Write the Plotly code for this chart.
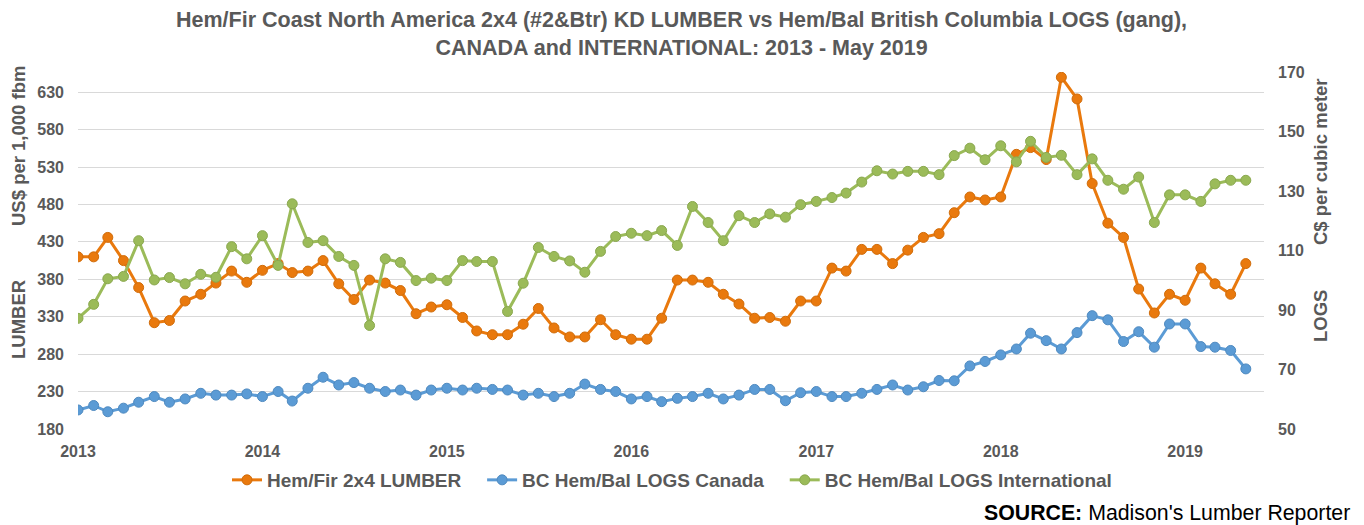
import pandas as pd
import plotly.graph_objects as go

months = pd.date_range("2013-01-01", periods=77, freq="MS")

lumber = [
    410, 410, 436, 405, 369, 322, 325, 351, 360, 375, 391, 376,
    392, 401, 389, 391, 405, 374, 353, 379, 375, 365, 334, 343,
    346, 329, 311, 306, 306, 320, 341, 315, 303, 303, 326, 306,
    300, 300, 328, 379, 379, 376, 360, 347, 328, 329, 324, 351,
    351, 395, 391, 420, 420, 401, 419, 436, 441, 469, 490, 486,
    490, 547, 556, 540, 650, 621, 508, 455, 436, 367, 335, 360,
    352, 395, 374, 360, 401,
]
logs_canada = [
    56.4, 57.9, 55.8, 57.0, 59.0, 60.9, 59.0, 60.1, 62.0, 61.4, 61.4, 61.8,
    60.9, 62.6, 59.4, 63.7, 67.4, 64.8, 65.6, 63.7, 62.6, 63.1, 61.4, 63.1,
    63.7, 63.1, 63.7, 63.3, 63.1, 61.4, 62.0, 60.9, 62.0, 65.1, 63.3, 62.6,
    60.1, 60.9, 59.2, 60.3, 60.9, 62.0, 60.1, 61.4, 63.3, 63.3, 59.5, 62.2,
    62.6, 60.9, 60.9, 62.0, 63.3, 64.8, 63.1, 64.2, 66.3, 66.2, 71.2, 72.7,
    74.9, 76.9, 82.2, 79.7, 76.9, 82.4, 88.1, 86.7, 79.4, 82.7, 77.5, 85.3,
    85.3, 77.7, 77.5, 76.4, 70.2,
]
logs_intl = [
    87.2, 91.9, 100.5, 101.3, 113.3, 100.1, 100.9, 98.8, 102.0, 101.0, 111.3, 107.2,
    115.0, 105.0, 125.7, 112.7, 113.3, 108.0, 105.0, 84.8, 107.2, 106.0, 99.9, 100.7,
    99.9, 106.6, 106.3, 106.3, 89.5, 99.0, 111.0, 108.0, 106.5, 102.7, 109.7, 114.7,
    115.8, 115.0, 116.7, 111.7, 124.8, 119.4, 113.3, 121.7, 119.4, 122.3, 121.2, 125.4,
    126.5, 127.8, 129.3, 133.0, 136.8, 135.7, 136.6, 136.6, 135.5, 141.9, 144.4, 140.5,
    145.2, 139.8, 146.7, 141.3, 142.0, 135.5, 140.8, 133.6, 130.6, 134.7, 119.4, 128.7,
    128.7, 126.5, 132.4, 133.6, 133.6,
]

series_names = ["Hem/Fir 2x4 LUMBER", "BC Hem/Bal LOGS Canada", "BC Hem/Bal LOGS International"]
left_ticks = [180, 230, 280, 330, 380, 430, 480, 530, 580, 630]
right_ticks = [50, 70, 90, 110, 130, 150, 170]

ORANGE = "#E9790D"
BLUE = "#5B9BD5"
GREEN = "#9BBB59"
TXT = "#595959"
FONT = "Liberation Sans, Arial, sans-serif"
NB = "\u00a0"

fig = go.Figure()
fig.add_trace(go.Scatter(
    x=months, y=lumber, name=series_names[0] + NB * 3, mode="lines+markers",
    line=dict(color=ORANGE, width=3),
    marker=dict(color=ORANGE, size=10, line=dict(color="#D06C0A", width=1)),
    yaxis="y",
))
fig.add_trace(go.Scatter(
    x=months, y=logs_canada, name=series_names[1] + NB * 3, mode="lines+markers",
    line=dict(color=BLUE, width=3),
    marker=dict(color=BLUE, size=10, line=dict(color="#4F8AC0", width=1)),
    yaxis="y2",
))
fig.add_trace(go.Scatter(
    x=months, y=logs_intl, name=series_names[2], mode="lines+markers",
    line=dict(color=GREEN, width=3),
    marker=dict(color=GREEN, size=10, line=dict(color="#8AA84F", width=1)),
    yaxis="y2",
))

# page body has an 8px margin: build figure in reference coords minus 8
OFF = 8
W, H = 1364 - OFF, 525 - OFF
PL, PR, PT, PB = 78, 1264, 72, 429  # plot box in reference pixels
L, R, T, B = PL - OFF, W - (PR - OFF), PT - OFF, H - (PB - OFF)
pw, ph = PR - PL, PB - PT

def px_x(x):
    return (x - PL) / pw

def px_y(y):
    return (PB - y) / ph

fig.update_layout(
    width=W, height=H,
    margin=dict(l=L, r=R, t=T, b=B, autoexpand=False),
    paper_bgcolor="white", plot_bgcolor="white",
    font=dict(family=FONT, color=TXT),
    xaxis=dict(
        range=["2013-01-01", "2019-06-06"],
        tickformat="%Y", dtick="M12", tick0="2013-01-01",
        showgrid=False, zeroline=False, showline=False,
        ticks="", ticklabelstandoff=11,
        tickfont=dict(size=16, color=TXT, family=FONT, weight="bold"),
    ),
    yaxis=dict(
        range=[180, 657], tickvals=left_ticks,
        showgrid=True, gridcolor="#D9D9D9", gridwidth=1,
        zeroline=False, showline=False, ticks="", ticklabelstandoff=13,
        tickfont=dict(size=16, color=TXT, family=FONT, weight="bold"),
    ),
    yaxis2=dict(
        range=[50, 170], tickvals=right_ticks,
        overlaying="y", side="right",
        showgrid=False, zeroline=False, showline=False, ticks="", ticklabelstandoff=13,
        tickfont=dict(size=16, color=TXT, family=FONT, weight="bold"),
    ),
    legend=dict(
        orientation="h", x=px_x(672), xanchor="center",
        y=px_y(480), yanchor="middle",
        font=dict(size=19, color=TXT, family=FONT, weight="bold"),
        bgcolor="rgba(0,0,0,0)",
    ),
    showlegend=True,
)

fig.add_annotation(
    text="<b>Hem/Fir Coast North America 2x4 (#2&Btr) KD LUMBER vs Hem/Bal British Columbia LOGS (gang),<br>CANADA and INTERNATIONAL: 2013 - May 2019</b>",
    x=px_x(681), y=px_y(34.5), xref="paper", yref="paper",
    xanchor="center", yanchor="middle", showarrow=False,
    font=dict(size=21.5, color=TXT, family=FONT),
)

anns = [
    dict(text="<b>LUMBER</b>", x=px_x(18), y=px_y(320)),
    dict(text="<b>US$ per 1,000 fbm</b>", x=px_x(18), y=px_y(146)),
    dict(text="<b>C$ per cubic meter</b>", x=px_x(1320), y=px_y(162)),
    dict(text="<b>LOGS</b>", x=px_x(1320), y=px_y(316)),
]
for a in anns:
    fig.add_annotation(
        text=a["text"], x=a["x"], y=a["y"], xref="paper", yref="paper",
        xanchor="center", yanchor="middle", textangle=-90,
        showarrow=False, font=dict(size=18.5, color=TXT, family=FONT),
    )

fig.add_annotation(
    text="<b>SOURCE:</b> Madison's Lumber Reporter",
    x=px_x(1352), y=px_y(513), xref="paper", yref="paper",
    xanchor="right", yanchor="middle", showarrow=False,
    font=dict(size=21.3, color="#000000", family=FONT),
)

fig.write_html("out.html")
